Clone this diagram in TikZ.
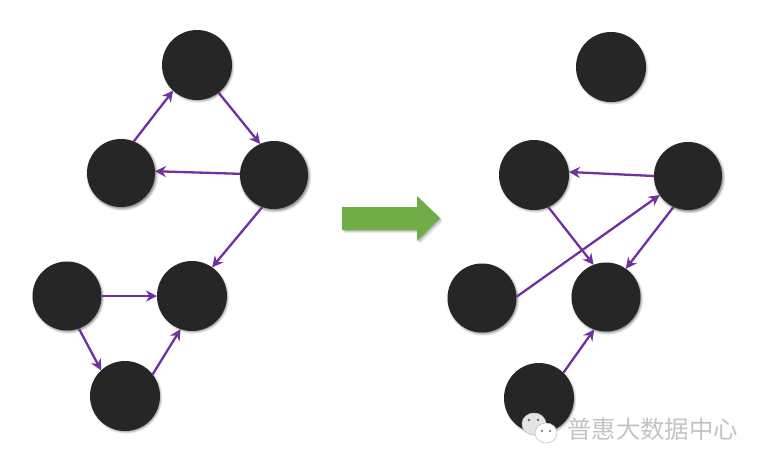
\documentclass[tikz,border=0pt]{standalone}
\usepackage{fontspec}
\newfontfamily\cjk{Noto Sans CJK SC}
\usetikzlibrary{arrows.meta}
\definecolor{nodefill}{HTML}{262626}
\definecolor{edgecol}{HTML}{7030A0}
\definecolor{arrowgreen}{HTML}{70AD47}
\definecolor{wmgray}{HTML}{C4C4C4}
\tikzset{
  dot/.style={circle,draw=none,fill=nodefill,inner sep=0pt,minimum size=69pt,outer sep=0pt},
  edge/.style={draw=edgecol,line width=2.3pt,-{Stealth[length=11pt,width=11pt]}},
  wm/.style={font=\cjk\fontsize{24.4}{24.4}\selectfont,text=wmgray,inner sep=0pt,anchor=west}
}
\newcommand{\softshadow}[3]{%
  \foreach \k/\o in {4/.05,3/.07,2/.09,1/.11,0/.13}{
    \fill[black,opacity=\o] (#1+1.2,#2+1.6) circle ({#3+\k*.7});
  }}
\begin{document}
\begin{tikzpicture}[x=1pt,y=-1pt]
\useasboundingbox (0,0) rectangle (763,467);
\fill[white] (0,0) rectangle (763,467);
% shadows
\foreach \a/\b in {197/65,121/173,274/175,67/296,192/296,125/396,611/67,534/175,688/176,482/298,606/297,539/398}{
  \softshadow{\a}{\b}{33.5}
}
% nodes
\node[dot,minimum size=70pt] (L1) at (197,65) {};
\node[dot,minimum size=68pt] (L2) at (121,173) {};
\node[dot,minimum size=68pt] (L3) at (274,175) {};
\node[dot] (L4) at (67,296) {};
\node[dot,minimum size=70pt] (L5) at (192,296) {};
\node[dot,minimum size=70pt] (L6) at (125,396) {};
\node[dot,minimum size=70pt] (R1) at (611,67) {};
\node[dot,minimum size=70pt] (R2) at (534,175) {};
\node[dot,minimum size=68pt] (R3) at (688,176) {};
\node[dot] (R4) at (482,298) {};
\node[dot] (R5) at (606,297) {};
\node[dot,minimum size=70pt] (R6) at (539,398) {};
% left edges
\draw[edge] (L2.68) -- (L1.227);
\draw[edge] (L1.-52) -- (L3.114);
\draw[edge] (L3.178) -- (L2.3);
\draw[edge] (L3.-110) -- (L5.55);
\draw[edge] (L4.0) -- (L5.180);
\draw[edge] (L4.-70) -- (L6.133);
\draw[edge] (L6.38) -- (L5.251);
% right edges
\draw[edge] (R3.180) -- (R2.5);
\draw[edge] (R2.-66) -- (R5.111);
\draw[edge] (R3.-115) -- (R5.55);
\draw[edge] (R4.2) -- (R3.214);
\draw[edge] (R6.46) -- (R5.250);
% big arrow
\foreach \k/\o in {3/.08,2/.10,1/.12}{
  \fill[black,opacity=\o] (342+\k,207+\k) -- (417+\k,207+\k) -- (417+\k,196+\k) -- (440+\k,218+\k) -- (417+\k,241+\k) -- (417+\k,230+\k) -- (342+\k,230+\k) -- cycle;
}
\fill[arrowgreen] (342,207) -- (417,207) -- (417,196) -- (440,218) -- (417,241) -- (417,230) -- (342,230) -- cycle;
% watermark
\fill[white!90!black,draw=wmgray,line width=.6pt] (534,424) ellipse (12 and 11);
\fill[white,draw=wmgray,line width=.6pt] (546,433) ellipse (11 and 10);
\fill[black!60] (529,420) circle (1.3) (538,420) circle (1.3) (542,431) circle (1.1) (550,431) circle (1.1);
\node[wm] (W) at (567,429.5) {普惠大数据中心};
\end{tikzpicture}
\end{document}
